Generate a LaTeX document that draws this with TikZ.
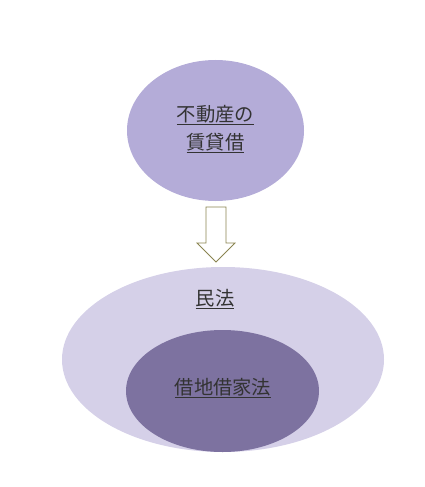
\documentclass[tikz,border=0pt]{standalone}
\usepackage{fontspec}
\newfontfamily\cjk{Noto Sans CJK JP}
\definecolor{topfill}{HTML}{B4ACD8}
\definecolor{bigfill}{HTML}{D5D0E8}
\definecolor{innerfill}{HTML}{7D72A0}
\definecolor{txt}{HTML}{333333}
\definecolor{arrowline}{HTML}{8A8450}
\begin{document}
\begin{tikzpicture}[x=1pt,y=-1pt,
  lbl/.style={text=txt,font=\cjk\fontsize{19.3}{28}\selectfont,align=center,inner sep=0pt}]
\useasboundingbox (0,0) rectangle (424,487);
\fill[topfill] (215.5,130.5) ellipse [x radius=88.5,y radius=70.5];
\node[lbl] (top) at (215.5,129) {\underline{不動産の}\\\underline{賃貸借}};
\draw[arrowline,fill=white,line width=0.8pt] (206,207) -- (226,207) -- (226,243) -- (235,243) -- (216,262) -- (197,243) -- (206,243) -- cycle;
\fill[bigfill] (223,359.5) ellipse [x radius=161,y radius=92.5];
\fill[innerfill] (222.5,391) ellipse [x radius=96.5,y radius=61];
\node[lbl] (civil) at (215,299) {\underline{民法}};
\node[lbl] (lease) at (223,388) {\underline{借地借家法}};
\end{tikzpicture}
\end{document}
